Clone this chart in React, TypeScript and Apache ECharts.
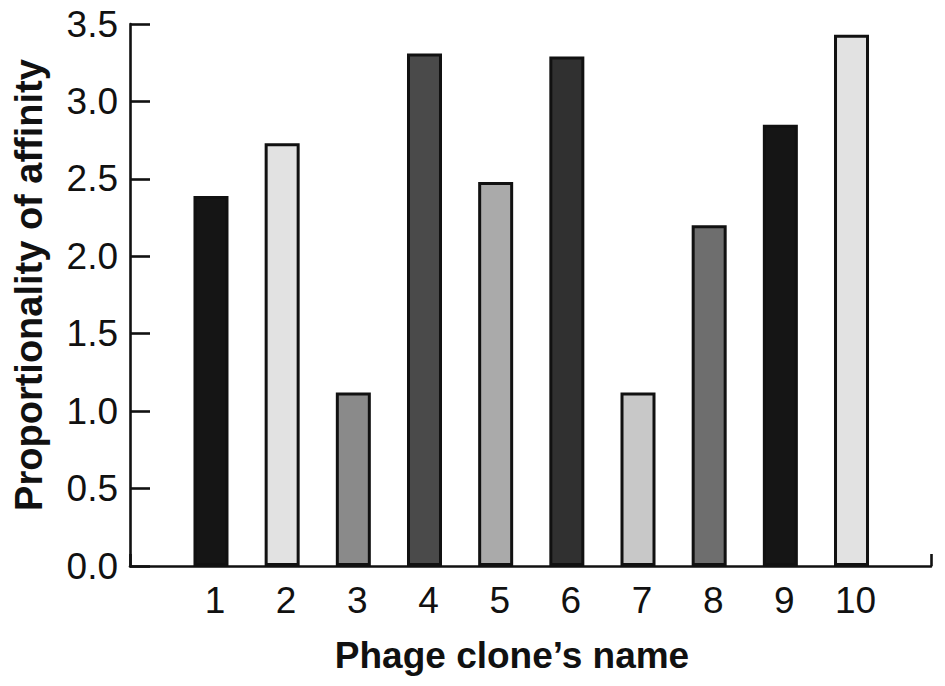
import React, { useEffect, useRef } from "react";
import * as echarts from "echarts";

const categories = ["1", "2", "3", "4", "5", "6", "7", "8", "9", "10"];
const values = [2.39, 2.73, 1.12, 3.31, 2.48, 3.29, 1.12, 2.2, 2.85, 3.43];
const barColors = ["#151515", "#e2e2e2", "#8a8a8a", "#4a4a4a", "#aaaaaa", "#303030", "#c8c8c8", "#6e6e6e", "#151515", "#e2e2e2"];
const yMin = 0;
const yMax = 3.5;
const yStep = 0.5;
const xTitle = "Phage clone\u2019s name";
const yTitle = "Proportionality of affinity";

const FONT = "'Liberation Sans', Arial, Helvetica, sans-serif";

export default function App() {
  const ref = useRef<HTMLDivElement>(null);
  useEffect(() => {
    document.body.style.margin = "0";
    if (!ref.current) return;
    const chart = echarts.init(ref.current, null, { renderer: "svg" });
    const top = 24;
    const bottom = 120;
    chart.setOption({
      animation: false,
      backgroundColor: "#ffffff",
      grid: [
        { left: 130, right: 14, top, bottom },
        { left: 175.4, right: 57.9, top, bottom },
      ],
      xAxis: [
        {
          type: "value",
          gridIndex: 0,
          min: 0,
          max: 1,
          interval: 1,
          axisLine: { show: true, lineStyle: { color: "#111", width: 2.6 } },
          axisTick: { show: true, inside: true, length: 12, lineStyle: { color: "#111", width: 2.6 } },
          axisLabel: { show: false },
          splitLine: { show: false },
        },
        {
          type: "category",
          gridIndex: 1,
          data: categories,
          axisLine: { show: false },
          axisTick: { show: false },
          axisLabel: {
            show: true,
            color: "#111",
            fontFamily: FONT,
            fontSize: 37,
            margin: 16,
            padding: [0, 0, 0, 8],
          },
        },
      ],
      yAxis: [
        {
          type: "value",
          gridIndex: 0,
          min: yMin,
          max: yMax,
          interval: yStep,
          axisLine: { show: true, lineStyle: { color: "#111", width: 2.6 } },
          axisTick: { show: true, inside: true, length: 20, lineStyle: { color: "#111", width: 2.6 } },
          axisLabel: {
            color: "#111",
            fontFamily: FONT,
            fontSize: 37,
            margin: 12,
            formatter: (v: number) => v.toFixed(1),
          },
          splitLine: { show: false },
        },
        {
          type: "value",
          gridIndex: 1,
          min: yMin,
          max: yMax,
          interval: yStep,
          show: false,
          splitLine: { show: false },
        },
      ],
      series: [
        {
          type: "bar",
          xAxisIndex: 1,
          yAxisIndex: 1,
          barWidth: 35,
          data: values.map((v, i) => ({
            value: v,
            itemStyle: { color: barColors[i], borderColor: "#111", borderWidth: 3 },
          })),
        },
      ],
      graphic: [
        {
          type: "text",
          x: 512,
          y: 655,
          style: {
            text: xTitle,
            font: `bold 37px ${FONT}`,
            fill: "#111",
            align: "center",
            verticalAlign: "middle",
          },
        },
        {
          type: "text",
          x: 29,
          y: 285,
          rotation: Math.PI / 2,
          style: {
            text: yTitle,
            font: `bold 38px ${FONT}`,
            fill: "#111",
            align: "center",
            verticalAlign: "middle",
          },
        },
      ],
    });
    return () => chart.dispose();
  }, []);
  return <div ref={ref} style={{ width: 945, height: 686 }} />;
}
